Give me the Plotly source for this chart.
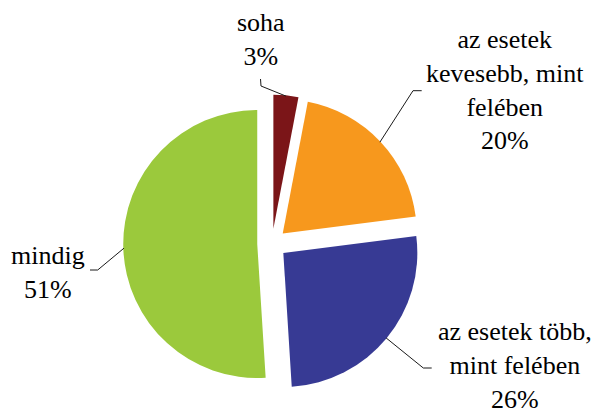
import math
import plotly.graph_objects as go

# ---- data ----
categories = ["soha", "az esetek kevesebb, mint felében", "az esetek több, mint felében", "mindig"]
values = [3, 20, 26, 51]
label_lines = [["soha", "3%"],
               ["az esetek", "kevesebb, mint", "felében", "20%"],
               ["az esetek több,", "mint felében", "26%"],
               ["mindig", "51%"]]
colors = ["#7b1518", "#f7981d", "#373a94", "#9bc93c"]

# ---- layout constants ----
W, H = 595, 416
PULL = 0.11
DOM_X = [0.2071, 0.7071]
DOM_Y = [0.0571, 0.7722]
FONT = "'Liberation Serif', 'Times New Roman', serif"
FS = 26

# label placement (pixel, from top-left): centre x, top y
label_pos = [(261, 6), (505, 23), (515, 315), (48, 239)]
# leader line: label-side end and elbow (pixels)
leader_start = [(260.5, 79), (421.7, 90.7), (431.7, 368), (90, 270)]
leader_elbow = [(261, 86), (413, 90.7), (423.3, 368), (97.7, 270)]

fig = go.Figure(go.Pie(
    labels=categories, values=values, sort=False, direction="clockwise",
    rotation=0, pull=[PULL] * len(values), textinfo="none", hoverinfo="label+percent",
    marker=dict(colors=colors, line=dict(width=0)),
    domain=dict(x=DOM_X, y=DOM_Y), showlegend=False,
))

# pie geometry, as plotly computes it
box_w = W * (DOM_X[1] - DOM_X[0])
box_h = H * (DOM_Y[1] - DOM_Y[0])
r = min(box_w, box_h) / (2 + 2 * PULL)
cx = W * (DOM_X[0] + DOM_X[1]) / 2
cy = H * (2 - DOM_Y[0] - DOM_Y[1]) / 2

def px(x, y):
    return x / W, 1 - y / H

total = sum(values)
cum = 0
shapes = []
annotations = []
for i, v in enumerate(values):
    mid = 2 * math.pi * (cum + v / 2) / total
    cum += v
    ux, uy = math.sin(mid), -math.cos(mid)
    ex = cx + (PULL * r + r * 0.995) * ux
    ey = cy + (PULL * r + r * 0.995) * uy
    pts = [leader_start[i], leader_elbow[i], (ex, ey)]
    p = [px(*q) for q in pts]
    path = "M {} {} L {} {} L {} {}".format(p[0][0], p[0][1], p[1][0], p[1][1], p[2][0], p[2][1])
    shapes.append(dict(type="path", xref="paper", yref="paper", path=path,
                       line=dict(color="#1a1a1a", width=1)))
    lx, ly = px(*label_pos[i])
    annotations.append(dict(x=lx, y=ly, xref="paper", yref="paper",
                            xanchor="center", yanchor="top", align="center",
                            text="<br>".join(label_lines[i]), showarrow=False,
                            font=dict(family=FONT, size=FS, color="black")))

fig.update_layout(
    width=W, height=H, margin=dict(l=0, r=0, t=0, b=0),
    paper_bgcolor="white", plot_bgcolor="white",
    font=dict(family=FONT, size=FS, color="black"),
    shapes=shapes, annotations=annotations,
)

fig.write_html("out.html", config={"displayModeBar": False},
               post_script="document.body.style.margin='0px';")
